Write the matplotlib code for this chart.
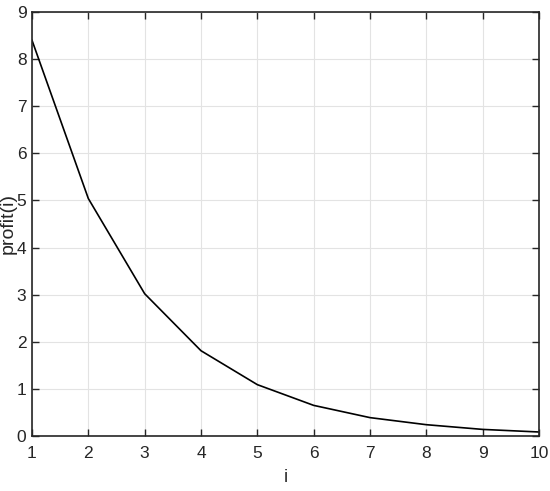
import matplotlib
matplotlib.use("Agg")
import matplotlib.pyplot as plt

i_vals = [1, 2, 3, 4, 5, 6, 7, 8, 9, 10]
profit = [8.40, 5.04, 3.02, 1.81, 1.09, 0.65, 0.39, 0.24, 0.14, 0.085]
xticks = [1, 2, 3, 4, 5, 6, 7, 8, 9, 10]
yticks = [0, 1, 2, 3, 4, 5, 6, 7, 8, 9]

plt.rcParams['font.family'] = ['Liberation Sans', 'DejaVu Sans']

fig = plt.figure(figsize=(5.5, 4.91), dpi=100)
ax = fig.add_axes([32/550, 1-436/491, 507/550, 424/491])
ax.plot(i_vals, profit, color='black', linewidth=1.2)
ax.set_xlim(1, 10)
ax.set_ylim(0, 9)
ax.set_xticks(xticks)
ax.set_yticks(yticks)
ax.grid(True, color='#e3e3e3', linewidth=0.8)
ax.set_axisbelow(True)
ax.tick_params(direction='in', length=5, width=1, top=True, right=True,
               labelsize=12.5, colors='#262626')
ax.tick_params(axis='x', pad=7)
ax.tick_params(axis='y', pad=4)
for s in ax.spines.values():
    s.set_color('#262626')
    s.set_linewidth(1.2)
ax.set_xlabel('i', fontsize=13, color='#262626', labelpad=6)
ax.set_ylabel('profit(i)', fontsize=14, color='#262626', labelpad=0)
fig.savefig('out.png', dpi=100)
